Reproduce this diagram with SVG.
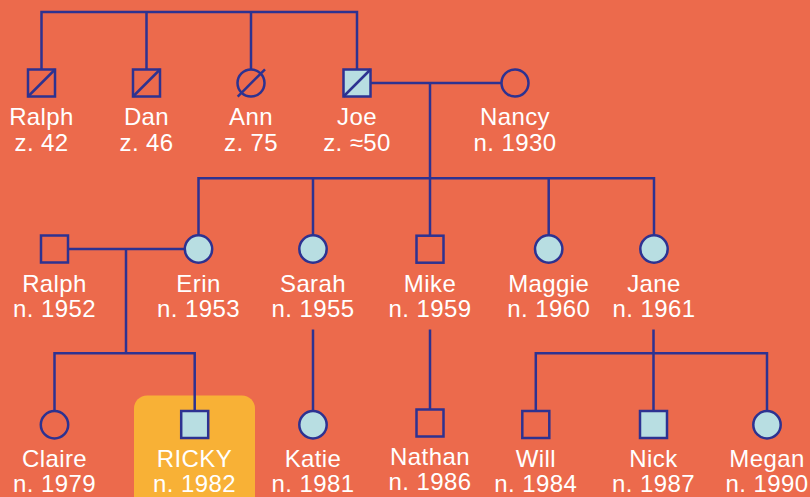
<svg xmlns="http://www.w3.org/2000/svg" width="810" height="497" viewBox="0 0 810 497">
<style>
.ln{fill:none;stroke:#2D3291;stroke-width:2.5}
.sq{fill:none;stroke:#2D3291;stroke-width:2.5}
.f{fill:#B8DEE2}
text{font-family:"Liberation Sans",Arial,sans-serif;font-size:24px;letter-spacing:0.4px;fill:#FFFFFF;text-anchor:middle}
</style>
<rect x="0" y="0" width="810" height="497" fill="#EC6A4C"/>
<rect x="134" y="395.5" width="121" height="120" rx="13" fill="#F8B136"/>
<g id="connectors" class="ln">
<path d="M41.5 69V12H357V69"/>
<path d="M146.5 12V69"/>
<path d="M251 12V69"/>
<path d="M370.5 83H501.5"/>
<path d="M430 83V178.3"/>
<path d="M198.5 235.3V178.3H654V235.3"/>
<path d="M313 178.3V235.3"/>
<path d="M430 178.3V235.7"/>
<path d="M548.7 178.3V235.3"/>
<path d="M68 249H185"/>
<path d="M126 249V353.3"/>
<path d="M54.5 411V353.3H194.7V411"/>
<path d="M313 329.5V411"/>
<path d="M430 329.5V409.5"/>
<path d="M653.5 329.5V411"/>
<path d="M535.8 411V353.3H767V411"/>
</g>
<g id="ralph1"><rect class="sq" x="28" y="69.5" width="27" height="27"/><path class="ln" d="M28 96.5L55 69.5"/><text x="41.5" y="125">Ralph</text><text x="41.5" y="151">z. 42</text></g>
<g id="dan"><rect class="sq" x="133" y="69.5" width="27" height="27"/><path class="ln" d="M133 96.5L160 69.5"/><text x="146.5" y="125">Dan</text><text x="146.5" y="151">z. 46</text></g>
<g id="ann"><circle class="sq" cx="251" cy="83" r="13.5"/><path class="ln" d="M237.7 96.7L265 69.3"/><text x="251" y="125">Ann</text><text x="251" y="151">z. 75</text></g>
<g id="joe"><rect class="sq f" x="343.5" y="69.5" width="27" height="27"/><path class="ln" d="M343.5 96.5L370.5 69.5"/><text x="357" y="125">Joe</text><text x="357" y="151">z. ≈50</text></g>
<g id="nancy"><circle class="sq" cx="515" cy="83" r="13.5"/><text x="515" y="125">Nancy</text><text x="515" y="151">n. 1930</text></g>
<g id="ralph2"><rect class="sq" x="41" y="235.5" width="27" height="27"/><text x="54.5" y="292">Ralph</text><text x="54.5" y="317">n. 1952</text></g>
<g id="erin"><circle class="sq f" cx="198.5" cy="249" r="13.7"/><text x="198.5" y="292">Erin</text><text x="198.5" y="317">n. 1953</text></g>
<g id="sarah"><circle class="sq f" cx="313" cy="249" r="13.7"/><text x="313" y="292">Sarah</text><text x="313" y="317">n. 1955</text></g>
<g id="mike"><rect class="sq" x="416.5" y="235.7" width="27" height="27"/><text x="430" y="292">Mike</text><text x="430" y="317">n. 1959</text></g>
<g id="maggie"><circle class="sq f" cx="548.7" cy="249" r="13.7"/><text x="548.7" y="292">Maggie</text><text x="548.7" y="317">n. 1960</text></g>
<g id="jane"><circle class="sq f" cx="654" cy="249" r="13.7"/><text x="654" y="292">Jane</text><text x="654" y="317">n. 1961</text></g>
<g id="claire"><circle class="sq" cx="54.5" cy="424.7" r="13.7"/><text x="54.5" y="467">Claire</text><text x="54.5" y="492">n. 1979</text></g>
<g id="ricky"><rect class="sq f" x="181.2" y="411" width="27" height="27"/><text x="194.5" y="467">RICKY</text><text x="194.5" y="492">n. 1982</text></g>
<g id="katie"><circle class="sq f" cx="313" cy="424.7" r="13.7"/><text x="313" y="467">Katie</text><text x="313" y="492">n. 1981</text></g>
<g id="nathan"><rect class="sq" x="416.5" y="409.5" width="27" height="27"/><text x="430" y="465">Nathan</text><text x="430" y="490">n. 1986</text></g>
<g id="will"><rect class="sq" x="522.3" y="411" width="27" height="27"/><text x="535.8" y="467">Will</text><text x="535.8" y="492">n. 1984</text></g>
<g id="nick"><rect class="sq f" x="640" y="411" width="27" height="27"/><text x="653.5" y="467">Nick</text><text x="653.5" y="492">n. 1987</text></g>
<g id="megan"><circle class="sq f" cx="767" cy="424.7" r="13.7"/><text x="767" y="467">Megan</text><text x="767" y="492">n. 1990</text></g>
</svg>
